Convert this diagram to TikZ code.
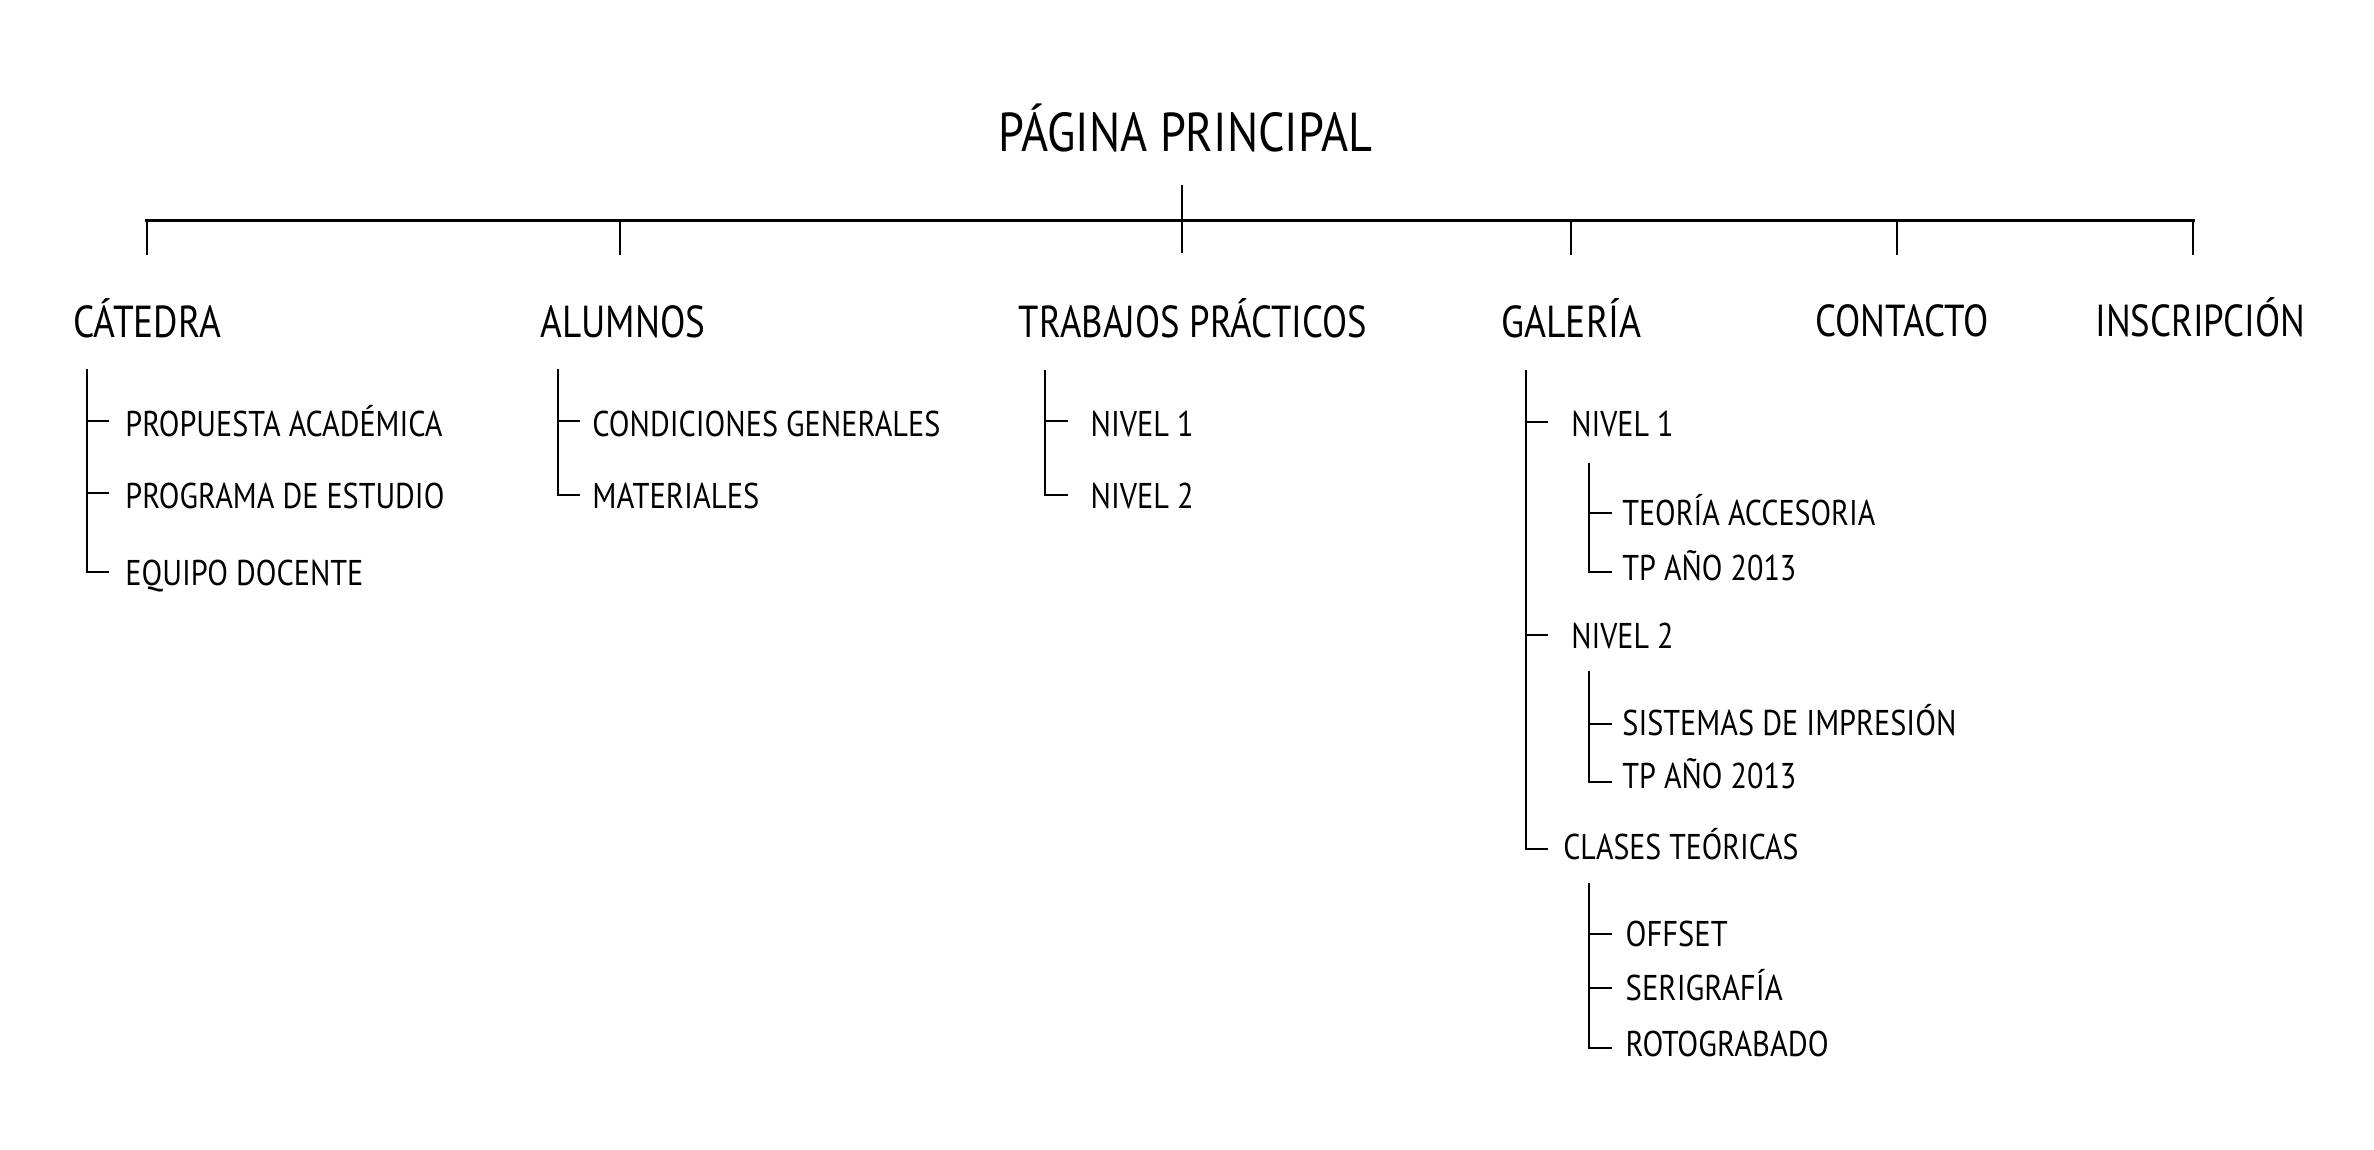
\documentclass[tikz,border=0pt]{standalone}
\usepackage{fontspec}
\setmainfont{PT Sans}
\usepackage{graphicx}
\newcommand{\fitw}[2]{\resizebox{\dimexpr #1pt/2\relax}{\height}{#2}}
\tikzset{
  ttl/.style={font=\fontsize{27.4}{30}\selectfont, anchor=base west, inner sep=0pt},
  sect/.style={font=\fontsize{22.4}{26}\selectfont, anchor=base west, inner sep=0pt},
  itm/.style={font=\fontsize{17.9}{21}\selectfont, anchor=base west, inner sep=0pt},
  bus/.style={line width=1.5pt, line cap=rect},
  link/.style={line width=1pt},
}
\begin{document}
\begin{tikzpicture}[x=0.5pt,y=-0.5pt]
\useasboundingbox (0,0) rectangle (2374,1150);
% title
\node[ttl] (title) at (998,151.7) {\fitw{374}{PÁGINA PRINCIPAL}};
% sections
\node[sect] (cat) at (73,338) {\fitw{148}{CÁTEDRA}};
\node[sect] (alu) at (540,338) {\fitw{165}{ALUMNOS}};
\node[sect] (tp)  at (1018.5,337) {\fitw{348}{TRABAJOS PRÁCTICOS}};
\node[sect] (gal) at (1501,337.3) {\fitw{140}{GALERÍA}};
\node[sect] (con) at (1815,337) {\fitw{173}{CONTACTO}};
\node[sect] (ins) at (2095,336.7) {\fitw{210}{INSCRIPCIÓN}};
% bus coordinates
\coordinate (stemtop) at (1181.7,185);
\coordinate (busL) at (146.7,220.7);
\coordinate (busR) at (2193,220.7);
\coordinate (dcat) at (146.7,255);
\coordinate (dalu) at (620,255);
\coordinate (dtp)  at (1181.7,253);
\coordinate (dgal) at (1571,255);
\coordinate (dcon) at (1896.7,255);
\coordinate (dins) at (2193,255);
\draw[bus] (busL) -- (busR);
\draw[link] (stemtop) -- (dtp);
\foreach \d in {dcat,dalu,dgal,dcon,dins}
  \draw[link] (\d |- busL) -- (\d);
% CATEDRA items
\node[itm] (cat1) at (125,436.7) {\fitw{317}{PROPUESTA ACADÉMICA}};
\node[itm] (cat2) at (125,508.3) {\fitw{319}{PROGRAMA DE ESTUDIO}};
\node[itm] (cat3) at (125,585)   {\fitw{238}{EQUIPO DOCENTE}};
\coordinate (catbr) at (87.3,369);
\coordinate (cat1t) at (109,421);
\coordinate (cat2t) at (109,493.3);
\coordinate (cat3t) at (109,571.7);
\draw[link] (cat1t) -- (cat1t -| catbr);
\draw[link] (cat2t) -- (cat2t -| catbr);
\draw[link] (catbr) |- (cat3t);
% ALUMNOS items
\node[itm] (alu1) at (592,436.7) {\fitw{348}{CONDICIONES GENERALES}};
\node[itm] (alu2) at (592,508.3) {\fitw{167}{MATERIALES}};
\coordinate (alubr) at (557.7,369);
\coordinate (alu1t) at (580,421);
\coordinate (alu2t) at (580,495);
\draw[link] (alu1t) -- (alu1t -| alubr);
\draw[link] (alubr) |- (alu2t);
% TRABAJOS PRACTICOS items
\node[itm] (tp1) at (1090.3,436.7) {\fitw{103}{NIVEL 1}};
\node[itm] (tp2) at (1090.3,508.3) {\fitw{103}{NIVEL 2}};
\coordinate (tpbr) at (1045,370);
\coordinate (tp1t) at (1067.7,420.7);
\coordinate (tp2t) at (1067.7,495);
\draw[link] (tp1t) -- (tp1t -| tpbr);
\draw[link] (tpbr) |- (tp2t);
% GALERIA items
\node[itm] (g1) at (1571,436.7) {\fitw{102}{NIVEL 1}};
\node[itm] (g2) at (1571,648.3) {\fitw{102}{NIVEL 2}};
\node[itm] (g3) at (1563,859)   {\fitw{235}{CLASES TEÓRICAS}};
\coordinate (galbr) at (1525.7,370);
\coordinate (g1t) at (1547.7,421.7);
\coordinate (g2t) at (1547.7,635);
\coordinate (g3t) at (1547.7,849.3);
\draw[link] (g1t) -- (g1t -| galbr);
\draw[link] (g2t) -- (g2t -| galbr);
\draw[link] (galbr) |- (g3t);
% Nivel 1 sub
\node[itm] (g11) at (1622,525)   {\fitw{253}{TEORÍA ACCESORIA}};
\node[itm] (g12) at (1622,580)   {\fitw{174}{TP AÑO 2013}};
\coordinate (g1br) at (1589.3,462.7);
\coordinate (g11t) at (1611.7,512.7);
\coordinate (g12t) at (1611.7,571.7);
\draw[link] (g11t) -- (g11t -| g1br);
\draw[link] (g1br) |- (g12t);
% Nivel 2 sub
\node[itm] (g21) at (1622,735)   {\fitw{334}{SISTEMAS DE IMPRESIÓN}};
\node[itm] (g22) at (1622,788.3) {\fitw{174}{TP AÑO 2013}};
\coordinate (g2br) at (1589.3,670.7);
\coordinate (g21t) at (1611.7,724);
\coordinate (g22t) at (1611.7,781.7);
\draw[link] (g21t) -- (g21t -| g2br);
\draw[link] (g2br) |- (g22t);
% Clases teoricas sub
\node[itm] (g31) at (1625.3,946.7)  {\fitw{102}{OFFSET}};
\node[itm] (g32) at (1625.3,1000)   {\fitw{157}{SERIGRAFÍA}};
\node[itm] (g33) at (1625.3,1056.7) {\fitw{203}{ROTOGRABADO}};
\coordinate (g3br) at (1589.3,883.3);
\coordinate (g31t) at (1611.7,934);
\coordinate (g32t) at (1611.7,987.7);
\coordinate (g33t) at (1611.7,1047.7);
\draw[link] (g31t) -- (g31t -| g3br);
\draw[link] (g32t) -- (g32t -| g3br);
\draw[link] (g3br) |- (g33t);
\end{tikzpicture}
\end{document}
